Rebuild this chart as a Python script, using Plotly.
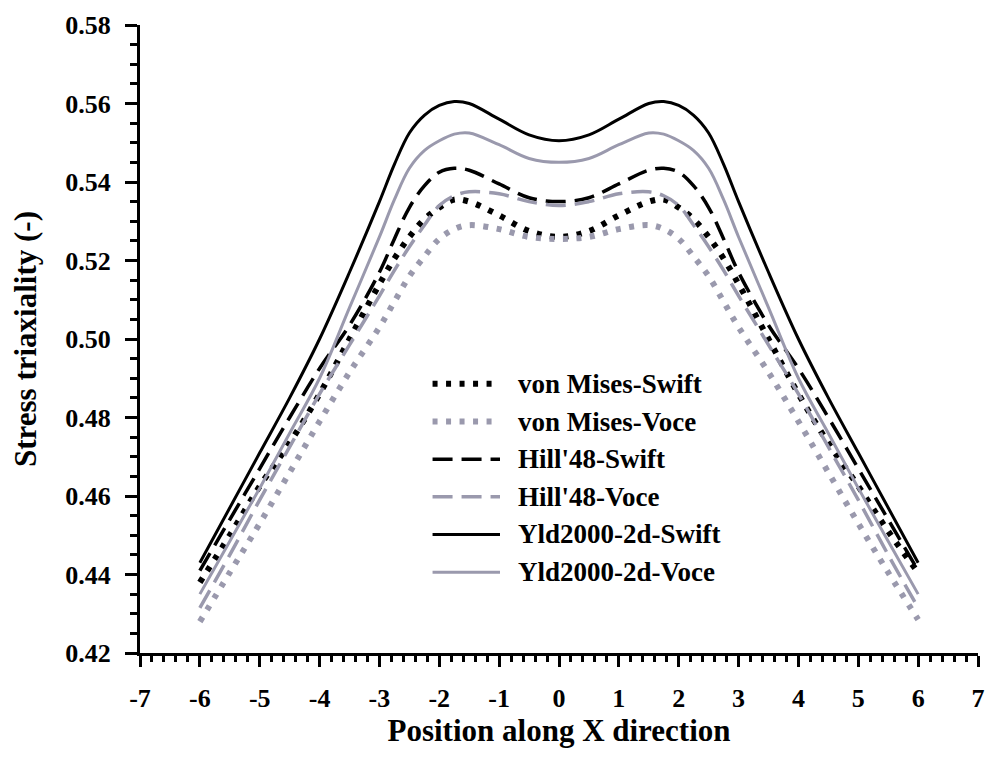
import plotly.graph_objects as go

x_pos = [-6, -5.5, -5, -4.5, -4, -3.5, -3, -2.75, -2.5, -2.25, -2, -1.75, -1.5, -1, -0.5, 0,
         0.5, 1, 1.5, 1.75, 2, 2.25, 2.5, 2.75, 3, 3.5, 4, 4.5, 5, 5.5, 6]

vm_swift = [0.438, 0.450, 0.4625, 0.4735, 0.486, 0.500, 0.514, 0.5205, 0.526, 0.5305, 0.5335, 0.5355, 0.535, 0.5315, 0.5275, 0.526,
            0.5275, 0.5315, 0.535, 0.5355, 0.5335, 0.5305, 0.526, 0.5205, 0.514, 0.500, 0.486, 0.4735, 0.4625, 0.451, 0.4405]
vm_voce = [0.428, 0.4405, 0.453, 0.466, 0.479, 0.4915, 0.503, 0.5095, 0.516, 0.521, 0.5255, 0.528, 0.529, 0.528, 0.526, 0.5255,
           0.526, 0.528, 0.529, 0.528, 0.5255, 0.521, 0.516, 0.5095, 0.503, 0.4915, 0.479, 0.466, 0.453, 0.4405, 0.4285]
hill_swift = [0.441, 0.454, 0.467, 0.480, 0.4925, 0.5035, 0.517, 0.5255, 0.5335, 0.539, 0.5425, 0.5435, 0.543, 0.5395, 0.536, 0.535,
              0.536, 0.5395, 0.543, 0.5435, 0.5425, 0.539, 0.5335, 0.5255, 0.517, 0.5035, 0.4925, 0.480, 0.467, 0.454, 0.441]
hill_voce = [0.4315, 0.445, 0.459, 0.4725, 0.486, 0.4985, 0.511, 0.5175, 0.5235, 0.529, 0.534, 0.5365, 0.5375, 0.537, 0.535, 0.534,
             0.535, 0.537, 0.5375, 0.5365, 0.534, 0.529, 0.5235, 0.5175, 0.511, 0.4985, 0.486, 0.4725, 0.459, 0.445, 0.4315]
yld_swift = [0.443, 0.457, 0.471, 0.485, 0.500, 0.517, 0.535, 0.5445, 0.5525, 0.5570, 0.5595, 0.5605, 0.5600, 0.5560, 0.5520, 0.5505,
             0.5520, 0.5560, 0.5600, 0.5605, 0.5595, 0.5570, 0.5525, 0.5445, 0.535, 0.517, 0.500, 0.485, 0.471, 0.457, 0.443]
yld_voce = [0.435, 0.4485, 0.462, 0.476, 0.490, 0.508, 0.526, 0.5355, 0.5435, 0.5480, 0.5505, 0.5522, 0.5525, 0.5495, 0.546, 0.545,
            0.546, 0.5495, 0.5525, 0.5522, 0.5505, 0.5480, 0.5435, 0.5355, 0.526, 0.508, 0.490, 0.476, 0.462, 0.4485, 0.435]

series_names = ["von Mises-Swift", "von Mises-Voce", "Hill'48-Swift", "Hill'48-Voce",
                "Yld2000-2d-Swift", "Yld2000-2d-Voce"]
series_values = [vm_swift, vm_voce, hill_swift, hill_voce, yld_swift, yld_voce]

x_ticks = [-7, -6, -5, -4, -3, -2, -1, 0, 1, 2, 3, 4, 5, 6, 7]
x_tick_labels = ["-7", "-6", "-5", "-4", "-3", "-2", "-1", "0", "1", "2", "3", "4", "5", "6", "7"]

BLACK = "#000000"
GREY = "#9a99ad"
DOT = "5px,8.5px"
DASH = "20px,9px"
styles = [
    dict(color=BLACK, width=6, dash=DOT),
    dict(color=GREY, width=6, dash=DOT),
    dict(color=BLACK, width=3.5, dash=DASH),
    dict(color=GREY, width=3.5, dash=DASH),
    dict(color=BLACK, width=3, dash="solid"),
    dict(color=GREY, width=3, dash="solid"),
]

FONT = "Liberation Serif"
W, H = 996, 758
ML, MR, MT, MB = 140, 11, 16, 105
PW, PH = W - ML - MR, H - MT - MB

fig = go.Figure()
for name, vals, st in zip(series_names, series_values, styles):
    fig.add_trace(go.Scatter(x=x_pos, y=vals, mode="lines", name=name, showlegend=False,
                             line=dict(shape="spline", smoothing=1.0, **st)))

# manual legend (longer line samples than Plotly's built-in legend)
leg_x0, leg_x1, leg_text = 435, 503, 519
leg_y0, leg_dy = 380, 38.2
for i, (name, st) in enumerate(zip(series_names, styles)):
    py = leg_y0 + i * leg_dy
    yp = (H - MB - py) / PH
    fig.add_shape(type="line", xref="paper", yref="paper",
                  x0=(leg_x0 - ML) / PW, x1=(leg_x1 - ML) / PW, y0=yp, y1=yp,
                  line=dict(color=st["color"], width=st["width"], dash=st["dash"]))
    fig.add_annotation(xref="paper", yref="paper", x=(leg_text - ML) / PW, y=yp,
                       xanchor="left", yanchor="middle", showarrow=False, text=name,
                       font=dict(family=FONT, size=27, color="black", weight="bold"))

tickfont = dict(family=FONT, size=26, color="black", weight="bold")

fig.update_layout(
    width=W, height=H,
    margin=dict(l=ML, r=MR, t=MT, b=MB),
    paper_bgcolor="white", plot_bgcolor="white",
    font=dict(family=FONT, color="black"),
    showlegend=False,
    xaxis=dict(range=[-7, 7], tickmode="array", tickvals=x_ticks, ticktext=x_tick_labels,
               showgrid=False, zeroline=False,
               showline=True, linewidth=3, linecolor="black",
               ticks="outside", ticklen=11, tickwidth=3, tickcolor="black",
               minor=dict(dtick=0.2, tick0=0, ticks="outside", ticklen=6, tickwidth=3, tickcolor="black"),
               tickfont=tickfont, ticklabelstandoff=9,
               title=dict(text="Position along X direction", standoff=0,
                          font=dict(family=FONT, size=31, color="black", weight="bold"))),
    yaxis=dict(range=[0.42, 0.58], dtick=0.02, tick0=0.42, tickformat=".2f", showgrid=False,
               zeroline=False, showline=True, linewidth=3, linecolor="black",
               ticks="outside", ticklen=12, tickwidth=3, tickcolor="black",
               minor=dict(dtick=0.005, ticks="outside", ticklen=7, tickwidth=3, tickcolor="black"),
               tickfont=tickfont, ticklabelstandoff=9,
               title=dict(text="Stress triaxiality (-)", standoff=20,
                          font=dict(family=FONT, size=31, color="black", weight="bold"))),
    xaxis2=dict(range=[-7, 7], dtick=1, tick0=0, overlaying="x", side="top", anchor="y",
                showgrid=False, zeroline=False, showline=True, linewidth=3, linecolor="black",
                ticks="inside", ticklen=10, tickwidth=3, tickcolor="black", showticklabels=False,
                minor=dict(dtick=0.2, ticks="inside", ticklen=6, tickwidth=3, tickcolor="black")),
    yaxis2=dict(range=[0.42, 0.58], dtick=0.02, tick0=0.42, overlaying="y", side="right", anchor="x",
                showgrid=False, zeroline=False, showline=True, linewidth=3, linecolor="black",
                ticks="inside", ticklen=12, tickwidth=3, tickcolor="black", showticklabels=False,
                minor=dict(dtick=0.005, ticks="inside", ticklen=7, tickwidth=3, tickcolor="black")),
)

fig.write_html("out.html")
